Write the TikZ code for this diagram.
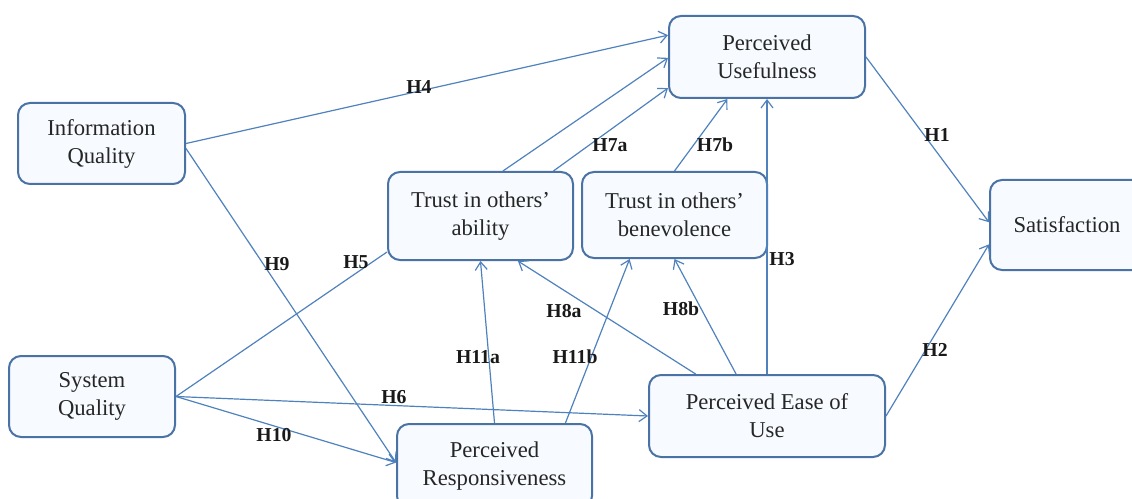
\documentclass[tikz,border=0pt]{standalone}
\usepackage{fontspec}
\setmainfont{Liberation Serif}
\usepackage{tikz}
\usetikzlibrary{calc,arrows.meta}

\definecolor{boxblue}{RGB}{74,114,164}
\definecolor{lineblue}{RGB}{79,129,189}
\definecolor{boxfill}{RGB}{247,251,255}

\tikzset{
  factor/.style={draw=boxblue, line width=1.5pt, rounded corners=9pt, fill=boxfill, align=center, inner sep=0pt, text=black!85, font=\fontsize{17}{21}\selectfont},
  hyp/.style={inner sep=0.75pt, text=black!90, font=\fontsize{14.8}{16}\selectfont\bfseries},
  link/.style={draw=lineblue, line width=0.9pt, -{Straight Barb[length=6pt,width=9pt]}},
  plain link/.style={draw=lineblue, line width=0.9pt},
}

\begin{document}
\begin{tikzpicture}[x=0.75pt,y=0.75pt,yscale=-1,xscale=1]
    \useasboundingbox (0,0) rectangle (1132,499);

    % Rounded Rect
    \node [factor, minimum width=125.25pt, minimum height=60.75pt] (iq) at (101.5,143.5) {Information\\Quality};
    % Rounded Rect
    \node [factor, minimum width=147pt, minimum height=61.5pt] (pu) at (767,57) {Perceived\\Usefulness};
    % Rounded Rect
    \node [factor, minimum width=138.75pt, minimum height=66pt] (ab) at (480.5,216) {Trust in others’\\ability};
    % Rounded Rect
    \node [factor, minimum width=138.75pt, minimum height=64.5pt] (be) at (674.5,215) {Trust in others’\\benevolence};
    % Rounded Rect
    \node [factor, minimum width=115.5pt, minimum height=67.5pt] (sat) at (1067,225) {Satisfaction};
    % Rounded Rect
    \node [factor, minimum width=124.5pt, minimum height=60.75pt] (sq) at (92,396.5) {System\\Quality};
    % Rounded Rect
    \node [factor, minimum width=177pt, minimum height=61.5pt] (peou) at (767,416) {Perceived Ease of\\Use};
    % Rounded Rect
    \node [factor, minimum width=146.25pt, minimum height=63pt] (pr) at (494.5,466) {Perceived\\Responsiveness};

    %Straight Lines
    \draw [link] (iq.east) -- ($(pu.north west)!0.24!(pu.south west)$);
    \draw [link] ($(ab.north west)!0.62!(ab.north east)$) -- ($(pu.north west)!0.51!(pu.south west)$);
    \draw [link] ($(ab.north west)!0.89!(ab.north east)$) -- ($(pu.north west)!0.87!(pu.south west)$);
    \draw [link] (be.north) -- ($(pu.south west)!0.30!(pu.south east)$);
    \draw [link] (peou.north) -- (pu.south);
    \draw [link] (pu.east) -- ($(sat.north west)!0.47!(sat.south west)$);
    \draw [link] (peou.east) -- ($(sat.north west)!0.71!(sat.south west)$);
    \draw [plain link] (sq.east) -- ($(ab.north west)!0.9!(ab.south west)$);
    \draw [link] ($(iq.north east)!0.56!(iq.south east)$) -- ($(pr.north west)!0.46!(pr.south west)$);
    \draw [link] (sq.east) -- ($(pr.north west)!0.46!(pr.south west)$);
    \draw [link] (sq.east) -- (peou.west);
    \draw [link] (pr.north) -- (ab.south);
    \draw [link] ($(pr.north west)!0.86!(pr.north east)$) -- ($(be.south west)!0.26!(be.south east)$);
    \draw [link] ($(peou.north west)!0.20!(peou.north east)$) -- ($(ab.south west)!0.70!(ab.south east)$);
    \draw [link] ($(peou.north west)!0.37!(peou.north east)$) -- (be.south);

    % Text Node
    \node [hyp] (h1) at (937,135) {H1};
    % Text Node
    \node [hyp] (h2) at (935,350) {H2};
    % Text Node
    \node [hyp] (h3) at (782,259) {H3};
    % Text Node
    \node [hyp] (h4) at (419,87) {H4};
    % Text Node
    \node [hyp] (h5) at (356,262) {H5};
    % Text Node
    \node [hyp] (h6) at (394,397) {H6};
    % Text Node
    \node [hyp] (h7a) at (610,145) {H7a};
    % Text Node
    \node [hyp] (h7b) at (715,145) {H7b};
    % Text Node
    \node [hyp] (h8a) at (564,311) {H8a};
    % Text Node
    \node [hyp] (h8b) at (681,309) {H8b};
    % Text Node
    \node [hyp] (h9) at (277,264) {H9};
    % Text Node
    \node [hyp] (h10) at (274,435) {H10};
    % Text Node
    \node [hyp] (h11a) at (478,357) {H11a};
    % Text Node
    \node [hyp] (h11b) at (575,357) {H11b};

\end{tikzpicture}
\end{document}
